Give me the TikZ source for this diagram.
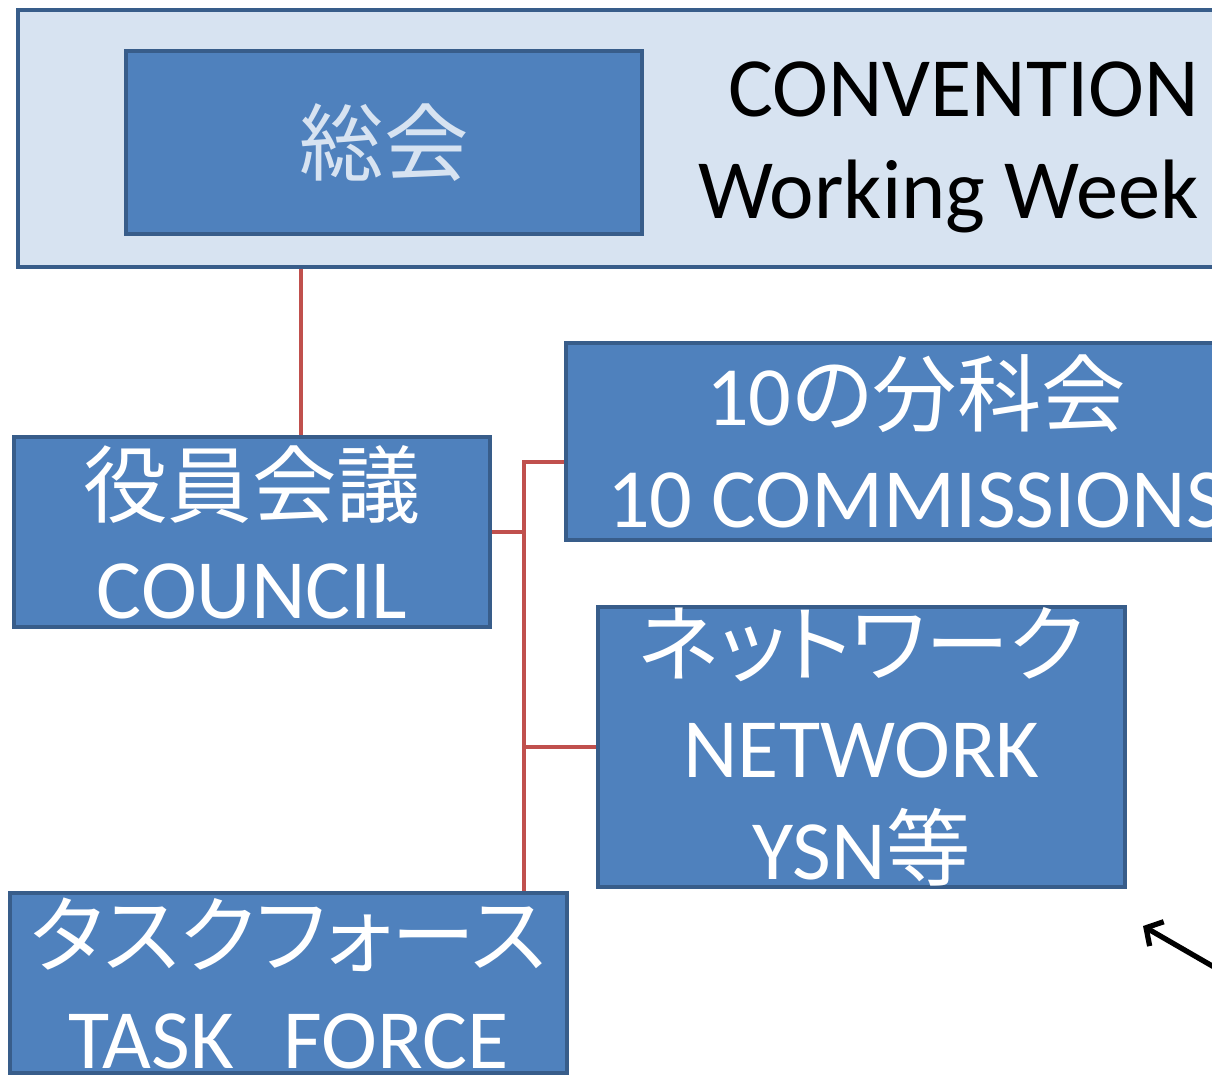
\documentclass[tikz,border=0pt]{standalone}
\usepackage{fontspec}
\setmainfont{Carlito}
\newfontfamily\jp{Noto Sans CJK JP}[RawFeature=+palt]
\usetikzlibrary{arrows.meta}

\definecolor{boxblue}{HTML}{4F81BD}
\definecolor{boxedge}{HTML}{385D8A}
\definecolor{paleblue}{HTML}{D7E3F1}
\definecolor{linkred}{HTML}{C0504D}

\tikzset{
  unit/.style={draw=boxedge, line width=2.2pt, fill=boxblue, text=white,
    inner sep=0pt, align=center, font=\fontsize{48}{58}\selectfont},
  link/.style={draw=linkred, line width=2.2pt},
}

\begin{document}
\begin{tikzpicture}[x=0.02cm,y=-0.02cm]

        \useasboundingbox (0,0) rectangle (1212,1074);
        \clip (0,0) rectangle (1212,1074);

        \node[unit, fill=paleblue, minimum width=25.64cm, minimum height=5.14cm] (conv) at (659,138.5) {};
        \node[unit, text=paleblue, minimum width=10.32cm, minimum height=3.66cm] (sokai) at (384,142.5) {\jp 総会};
        \node[anchor=east, inner sep=0pt, align=right, font=\fontsize{48}{58}\selectfont] (convtext) at (1199,147) {CONVENTION\\Working Week};

        \node[unit, minimum width=9.52cm, minimum height=3.8cm] (council) at (252,532) {{\jp 役員会議}\\COUNCIL};
        \node[unit, minimum width=14cm, minimum height=3.94cm] (bunka) at (916,441.5) {10{\jp の分科会}\\10 COMMISSIONS};
        \node[unit, minimum width=10.54cm, minimum height=5.6cm] (network) at (861.5,747) {{\jp ネットワーク}\\NETWORK\\YSN{\jp 等}};
        \node[unit, minimum width=11.14cm, minimum height=3.6cm] (task) at (288.5,983) {{\jp タスクフォース}\\TASK\hspace{1cm}FORCE};

        \coordinate (top) at (301,0);
        \coordinate (b1) at (524,462);

        \draw[link] (conv.south -| top) -- (council.north -| top);
        \draw[link] (council.east) -- (council.east -| b1);
        \draw[link] (bunka.west |- b1) -- (b1) -- (b1 |- task.north);
        \draw[link] (network.west) -- (network.west -| b1);

        \coordinate (tail) at (1240,982);
        \coordinate (tip) at (1143,926);
        \draw[line width=3pt, -{Straight Barb[length=7pt,width=16pt]}] (tail) -- (tip);

\end{tikzpicture}
\end{document}
